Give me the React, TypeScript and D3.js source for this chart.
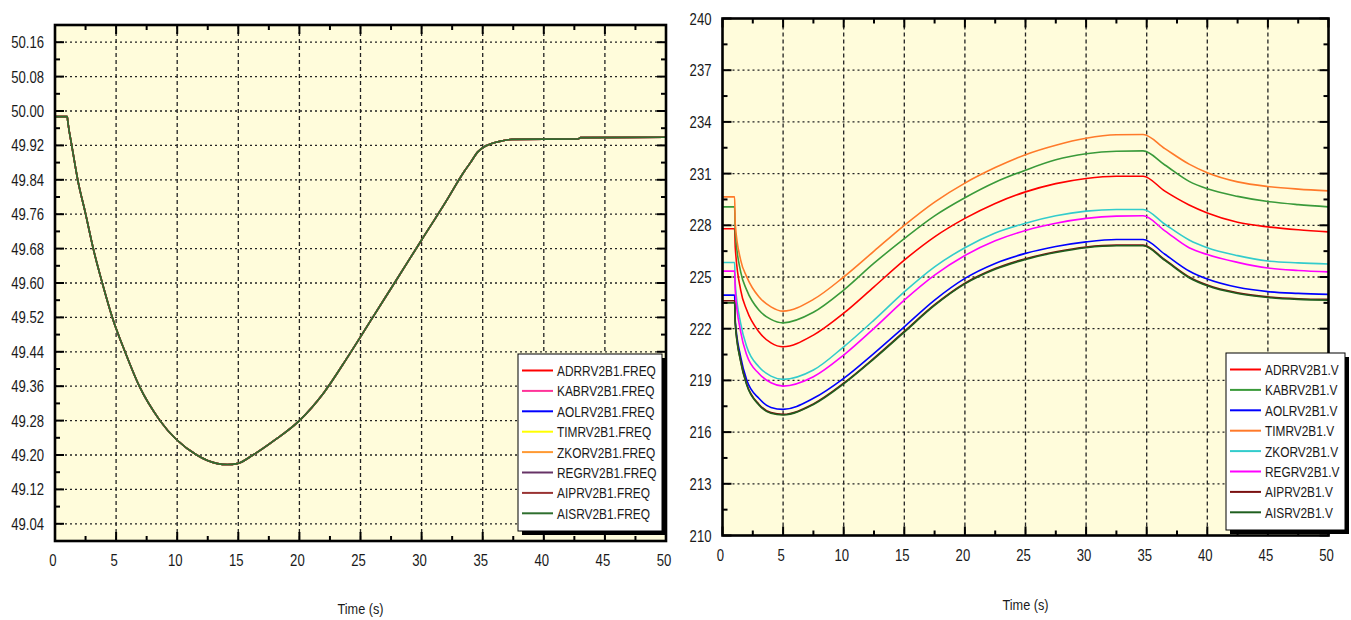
import React from 'react';
import * as d3 from 'd3';

// ---- Frequency panel data (all buses share the same system frequency) ----
const freqTime = [0, 1.0, 1.05, 1.37, 1.86, 2.51, 3.13, 3.87, 4.69, 5.73, 6.9, 8.59, 11.6, 13.3, 14.1, 14.9, 16.2, 18, 20, 22, 24, 26, 28, 30, 32, 33.5, 34.0, 34.6, 35.2, 35.8, 36.5, 37.4, 42.8, 43.0, 50];
const freqValues = [49.987, 49.987, 49.975, 49.92, 49.84, 49.76, 49.68, 49.6, 49.52, 49.44, 49.36, 49.28, 49.2, 49.18, 49.178, 49.18, 49.2, 49.235, 49.28, 49.345, 49.43, 49.52, 49.61, 49.7, 49.79, 49.86, 49.88, 49.905, 49.918, 49.925, 49.93, 49.934, 49.935, 49.938, 49.939];
const freqNames = ['ADRRV2B1.FREQ', 'KABRV2B1.FREQ', 'AOLRV2B1.FREQ', 'TIMRV2B1.FREQ', 'ZKORV2B1.FREQ', 'REGRV2B1.FREQ', 'AIPRV2B1.FREQ', 'AISRV2B1.FREQ'];
const freqColors = ['#ff0000', '#ff3399', '#0000ff', '#ffff00', '#ff9933', '#663366', '#993333', '#2f6f2f'];
const freqTicks = [49.04, 49.12, 49.2, 49.28, 49.36, 49.44, 49.52, 49.6, 49.68, 49.76, 49.84, 49.92, 50.0, 50.08, 50.16];
const freqMinor = [49.0, 49.08, 49.16, 49.24, 49.32, 49.4, 49.48, 49.56, 49.64, 49.72, 49.8, 49.88, 49.96, 50.04, 50.12, 50.2];

// ---- Voltage panel data ----
const voltTime = [0, 1, 1.05, 1.5, 2, 3, 4, 5, 7.5, 10, 12.5, 15, 17.5, 20, 22.5, 25, 27.5, 30, 32.5, 34.7, 36.5, 38.5, 40, 42.5, 45, 47.5, 50];
const vADRR = [227.8, 227.8, 226.75, 224.24, 223.08, 221.82, 221.18, 220.95, 221.63, 222.9, 224.43, 225.98, 227.33, 228.4, 229.27, 229.94, 230.42, 230.72, 230.85, 230.85, 229.98, 229.18, 228.72, 228.18, 227.91, 227.74, 227.62];
const vKABR = [229.07, 229.07, 227.6, 225.3, 224.24, 223.08, 222.54, 222.34, 222.95, 224.24, 225.8, 227.23, 228.55, 229.6, 230.5, 231.2, 231.8, 232.15, 232.3, 232.32, 231.5, 230.55, 230.12, 229.68, 229.38, 229.2, 229.07];
const vAOLR = [223.95, 223.95, 222.5, 220.37, 219.02, 217.96, 217.43, 217.32, 217.96, 219.12, 220.57, 222.11, 223.66, 224.92, 225.79, 226.37, 226.77, 227.04, 227.18, 227.18, 226.32, 225.35, 224.88, 224.4, 224.15, 224.05, 223.99];
const vTIMR = [229.65, 229.65, 228.1, 225.98, 225.01, 223.85, 223.27, 223.02, 223.7, 225.0, 226.5, 228.0, 229.35, 230.45, 231.35, 232.1, 232.65, 233.05, 233.25, 233.27, 232.45, 231.55, 231.05, 230.52, 230.25, 230.1, 230.0];
const vZKOR = [225.84, 225.84, 224.63, 222.31, 220.95, 219.79, 219.25, 219.06, 219.6, 220.95, 222.5, 224.14, 225.59, 226.7, 227.55, 228.12, 228.55, 228.82, 228.92, 228.92, 228.06, 227.15, 226.7, 226.24, 225.93, 225.82, 225.75];
const vREGR = [225.34, 225.34, 224.24, 221.82, 220.47, 219.4, 218.86, 218.67, 219.21, 220.47, 222.02, 223.66, 225.11, 226.25, 227.1, 227.7, 228.12, 228.4, 228.53, 228.55, 227.68, 226.7, 226.3, 225.85, 225.52, 225.38, 225.3];
const vAIPR = [223.62, 223.62, 222.36, 220.13, 218.78, 217.62, 217.13, 217.03, 217.64, 218.84, 220.29, 221.84, 223.39, 224.64, 225.49, 226.06, 226.46, 226.74, 226.85, 226.85, 226.0, 225.0, 224.53, 224.08, 223.85, 223.74, 223.7];
const vAISR = [223.5, 223.5, 222.31, 220.08, 218.73, 217.57, 217.09, 216.99, 217.6, 218.8, 220.25, 221.8, 223.35, 224.6, 225.45, 226.02, 226.42, 226.7, 226.81, 226.81, 225.96, 224.96, 224.49, 224.04, 223.81, 223.7, 223.66];
const voltNames = ['ADRRV2B1.V', 'KABRV2B1.V', 'AOLRV2B1.V', 'TIMRV2B1.V', 'ZKORV2B1.V', 'REGRV2B1.V', 'AIPRV2B1.V', 'AISRV2B1.V'];
const voltColors = ['#ff0000', '#3a9a3a', '#0000ff', '#ff7a2a', '#33cccc', '#ff00ff', '#7a1010', '#1f5f1f'];
const voltTicks = [210, 213, 216, 219, 222, 225, 228, 231, 234, 237, 240];
const voltMinor = [211.5, 214.5, 217.5, 220.5, 223.5, 226.5, 229.5, 232.5, 235.5, 238.5];

const timeTicks = [0, 5, 10, 15, 20, 25, 30, 35, 40, 45, 50];
const timeMinor = [2.5, 7.5, 12.5, 17.5, 22.5, 27.5, 32.5, 37.5, 42.5, 47.5];

const FONT = "'Liberation Sans', Arial, sans-serif";
const BG = '#fffcdb';

// Narrow text: a regular sans face squeezed horizontally.
function NText(props: { x: number; y: number; size: number; anchor?: string; children: React.ReactNode }) {
  return (
    <text
      transform={`translate(${props.x},${props.y}) scale(0.82,1)`}
      textAnchor={props.anchor || 'start'}
      fontFamily={FONT}
      fontSize={props.size}
      fill="#1a1a1a"
    >
      {props.children}
    </text>
  );
}

type Series = { name: string; color: string; values: number[] };

interface PanelProps {
  id: string;
  box: { left: number; right: number; top: number; bottom: number };
  yDomain: [number, number];
  yTicks: number[];
  yMinor: number[];
  yFormat: (v: number) => string;
  time: number[];
  series: Series[];
  legend: { x: number; y: number; w: number; h: number };
  lineWidth: number;
  xLabelY: number;
}

function Panel(p: PanelProps) {
  const { box } = p;
  const x = d3.scaleLinear().domain([0, 50]).range([box.left, box.right]);
  const y = d3.scaleLinear().domain(p.yDomain).range([box.bottom, box.top]);
  const line = d3
    .line<number>()
    .x((_, i) => x(p.time[i]))
    .y((d) => y(d))
    .curve(d3.curveMonotoneX);

  const majorLen = 9;
  const minorLen = 5;
  const w = box.right - box.left;
  const h = box.bottom - box.top;

  return (
    <g>
      <defs>
        <clipPath id={`clip-${p.id}`}>
          <rect x={box.left} y={box.top} width={w} height={h} />
        </clipPath>
      </defs>
      <rect x={box.left} y={box.top} width={w} height={h} fill={BG} />

      {/* grid */}
      {p.yTicks
        .filter((t) => y(t) > box.top + 1 && y(t) < box.bottom - 1)
        .map((t) => (
          <line key={`gy${t}`} x1={box.left} x2={box.right} y1={y(t)} y2={y(t)} stroke="#222" strokeWidth={1.3} strokeDasharray="2,3" />
        ))}
      {timeTicks
        .filter((t) => t > 0 && t < 50)
        .map((t) => (
          <line key={`gx${t}`} x1={x(t)} x2={x(t)} y1={box.top} y2={box.bottom} stroke="#222" strokeWidth={1.3} strokeDasharray="4,3" />
        ))}

      {/* curves */}
      <g clipPath={`url(#clip-${p.id})`}>
        {p.series.map((s) => (
          <path key={s.name} d={line(s.values) || ''} fill="none" stroke={s.color} strokeWidth={p.lineWidth} strokeLinejoin="round" />
        ))}
      </g>

      {/* inward ticks on all four sides */}
      {p.yTicks.map((t) => (
        <g key={`ty${t}`}>
          <line x1={box.left} x2={box.left + majorLen} y1={y(t)} y2={y(t)} stroke="#000" strokeWidth={2} />
          <line x1={box.right} x2={box.right - majorLen} y1={y(t)} y2={y(t)} stroke="#000" strokeWidth={2} />
        </g>
      ))}
      {p.yMinor.map((t) => (
        <g key={`my${t}`}>
          <line x1={box.left} x2={box.left + minorLen} y1={y(t)} y2={y(t)} stroke="#000" strokeWidth={2} />
          <line x1={box.right} x2={box.right - minorLen} y1={y(t)} y2={y(t)} stroke="#000" strokeWidth={2} />
        </g>
      ))}
      {timeTicks.map((t) => (
        <g key={`tx${t}`}>
          <line x1={x(t)} x2={x(t)} y1={box.bottom} y2={box.bottom - majorLen} stroke="#000" strokeWidth={2} />
          <line x1={x(t)} x2={x(t)} y1={box.top} y2={box.top + majorLen} stroke="#000" strokeWidth={2} />
        </g>
      ))}
      {timeMinor.map((t) => (
        <g key={`mx${t}`}>
          <line x1={x(t)} x2={x(t)} y1={box.bottom} y2={box.bottom - minorLen} stroke="#000" strokeWidth={2} />
          <line x1={x(t)} x2={x(t)} y1={box.top} y2={box.top + minorLen} stroke="#000" strokeWidth={2} />
        </g>
      ))}

      {/* frame */}
      <rect x={box.left} y={box.top} width={w} height={h} fill="none" stroke="#000" strokeWidth={2.6} />

      {/* tick labels */}
      {p.yTicks.map((t) => (
        <NText key={`ly${t}`} x={box.left - 11} y={y(t) + 6} size={16} anchor="end">
          {p.yFormat(t)}
        </NText>
      ))}
      {timeTicks.map((t) => (
        <NText key={`lx${t}`} x={x(t) - 2} y={box.bottom + 25} size={16} anchor="middle">
          {t}
        </NText>
      ))}
      <NText x={(box.left + box.right) / 2} y={p.xLabelY} size={15.5} anchor="middle">
        Time (s)
      </NText>

      {/* legend */}
      <rect x={p.legend.x + 4} y={p.legend.y + 4} width={p.legend.w} height={p.legend.h} fill="#000" />
      <rect x={p.legend.x} y={p.legend.y} width={p.legend.w} height={p.legend.h} fill="#fff" stroke="#000" strokeWidth={1} />
      {p.series.map((s, i) => {
        const ry = p.legend.y + 16.5 + i * 20.4;
        return (
          <g key={`lg${s.name}`}>
            <line x1={p.legend.x + 4} x2={p.legend.x + 35} y1={ry} y2={ry} stroke={s.color} strokeWidth={2} />
            <NText x={p.legend.x + 39} y={ry + 5.5} size={14.5}>
              {s.name}
            </NText>
          </g>
        );
      })}
    </g>
  );
}

export default function App() {
  const freqSeries: Series[] = freqNames.map((name, i) => ({ name, color: freqColors[i], values: freqValues }));
  const voltData = [vADRR, vKABR, vAOLR, vTIMR, vZKOR, vREGR, vAIPR, vAISR];
  const voltSeries: Series[] = voltNames.map((name, i) => ({ name, color: voltColors[i], values: voltData[i] }));

  return (
    <svg width={1351} height={620} style={{ position: 'absolute', left: 0, top: 0, background: '#fff' }}>
      <Panel
        id="freq"
        box={{ left: 55, right: 666, top: 25, bottom: 541 }}
        yDomain={[49.0, 50.2]}
        yTicks={freqTicks}
        yMinor={freqMinor}
        yFormat={d3.format('.2f')}
        time={freqTime}
        series={freqSeries}
        legend={{ x: 518, y: 354, w: 144, h: 177 }}
        lineWidth={1.6}
        xLabelY={614}
      />
      <Panel
        id="volt"
        box={{ left: 722.5, right: 1328.5, top: 18.5, bottom: 535.5 }}
        yDomain={[210, 240]}
        yTicks={voltTicks}
        yMinor={voltMinor}
        yFormat={d3.format('d')}
        time={voltTime}
        series={voltSeries}
        legend={{ x: 1226, y: 353, w: 119, h: 177 }}
        lineWidth={1.6}
        xLabelY={610}
      />
    </svg>
  );
}
